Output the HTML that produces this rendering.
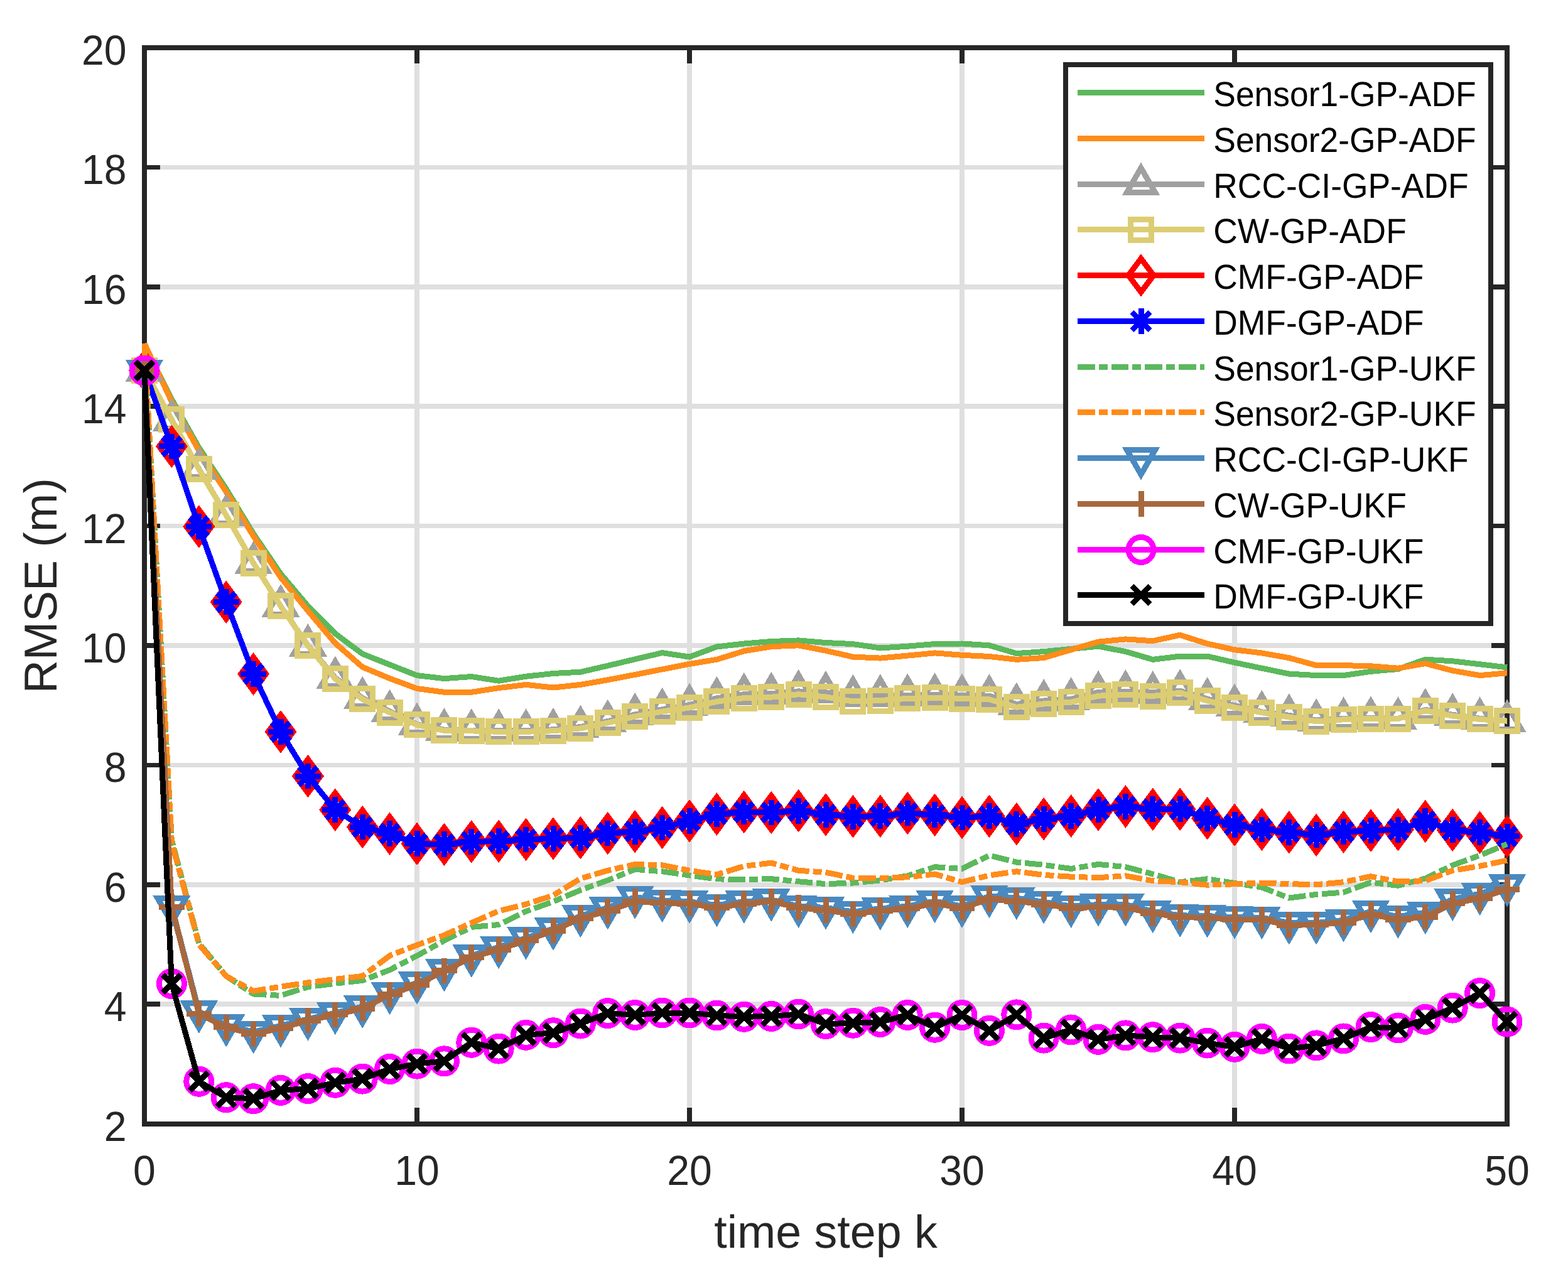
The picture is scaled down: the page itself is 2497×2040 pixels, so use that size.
<!DOCTYPE html><html><head><meta charset="utf-8"><title>RMSE</title><style>html,body{margin:0;padding:0;background:#fff;}svg{display:block;}</style></head><body>
<svg width="2497" height="2040" viewBox="0 0 2497 2040" shape-rendering="crispEdges" text-rendering="geometricPrecision">
<rect x="0" y="0" width="2497" height="2040" fill="#fff"/>
<path d="M664.0,76.0V1789.6M1098.0,76.0V1789.6M1532.0,76.0V1789.6M1966.0,76.0V1789.6M230.0,1599.2H2400.0M230.0,1408.8H2400.0M230.0,1218.4H2400.0M230.0,1028.0H2400.0M230.0,837.6H2400.0M230.0,647.2H2400.0M230.0,456.8H2400.0M230.0,266.4H2400.0" stroke="#dfdfdf" stroke-width="7.5" fill="none"/>
<path d="M664.0,1789.6V1764.3M664.0,76.0V101.3M1098.0,1789.6V1764.3M1098.0,76.0V101.3M1532.0,1789.6V1764.3M1532.0,76.0V101.3M1966.0,1789.6V1764.3M1966.0,76.0V101.3M230.0,1599.2H255.3M2400.0,1599.2H2374.7M230.0,1408.8H255.3M2400.0,1408.8H2374.7M230.0,1218.4H255.3M2400.0,1218.4H2374.7M230.0,1028.0H255.3M2400.0,1028.0H2374.7M230.0,837.6H255.3M2400.0,837.6H2374.7M230.0,647.2H255.3M2400.0,647.2H2374.7M230.0,456.8H255.3M2400.0,456.8H2374.7M230.0,266.4H255.3M2400.0,266.4H2374.7" stroke="#262626" stroke-width="7.5" fill="none"/>
<rect x="230.0" y="76.0" width="2170.0" height="1713.6" fill="none" stroke="#262626" stroke-width="8.0" stroke-linejoin="miter"/>
<text transform="translate(201.5,1816.6) scale(0.96,1)" text-anchor="end" font-family="Liberation Sans, Arial, sans-serif" font-size="67" fill="#262626">2</text>
<text transform="translate(201.5,1626.2) scale(0.96,1)" text-anchor="end" font-family="Liberation Sans, Arial, sans-serif" font-size="67" fill="#262626">4</text>
<text transform="translate(201.5,1435.8) scale(0.96,1)" text-anchor="end" font-family="Liberation Sans, Arial, sans-serif" font-size="67" fill="#262626">6</text>
<text transform="translate(201.5,1245.4) scale(0.96,1)" text-anchor="end" font-family="Liberation Sans, Arial, sans-serif" font-size="67" fill="#262626">8</text>
<text transform="translate(201.5,1055.0) scale(0.96,1)" text-anchor="end" font-family="Liberation Sans, Arial, sans-serif" font-size="67" fill="#262626">10</text>
<text transform="translate(201.5,864.6) scale(0.96,1)" text-anchor="end" font-family="Liberation Sans, Arial, sans-serif" font-size="67" fill="#262626">12</text>
<text transform="translate(201.5,674.2) scale(0.96,1)" text-anchor="end" font-family="Liberation Sans, Arial, sans-serif" font-size="67" fill="#262626">14</text>
<text transform="translate(201.5,483.8) scale(0.96,1)" text-anchor="end" font-family="Liberation Sans, Arial, sans-serif" font-size="67" fill="#262626">16</text>
<text transform="translate(201.5,293.4) scale(0.96,1)" text-anchor="end" font-family="Liberation Sans, Arial, sans-serif" font-size="67" fill="#262626">18</text>
<text transform="translate(201.5,103.0) scale(0.96,1)" text-anchor="end" font-family="Liberation Sans, Arial, sans-serif" font-size="67" fill="#262626">20</text>
<text transform="translate(230.0,1887) scale(0.96,1)" text-anchor="middle" font-family="Liberation Sans, Arial, sans-serif" font-size="67" fill="#262626">0</text>
<text transform="translate(664.0,1887) scale(0.96,1)" text-anchor="middle" font-family="Liberation Sans, Arial, sans-serif" font-size="67" fill="#262626">10</text>
<text transform="translate(1098.0,1887) scale(0.96,1)" text-anchor="middle" font-family="Liberation Sans, Arial, sans-serif" font-size="67" fill="#262626">20</text>
<text transform="translate(1532.0,1887) scale(0.96,1)" text-anchor="middle" font-family="Liberation Sans, Arial, sans-serif" font-size="67" fill="#262626">30</text>
<text transform="translate(1966.0,1887) scale(0.96,1)" text-anchor="middle" font-family="Liberation Sans, Arial, sans-serif" font-size="67" fill="#262626">40</text>
<text transform="translate(2400.0,1887) scale(0.96,1)" text-anchor="middle" font-family="Liberation Sans, Arial, sans-serif" font-size="67" fill="#262626">50</text>
<text x="1315.0" y="1987.4" text-anchor="middle" font-family="Liberation Sans, Arial, sans-serif" font-size="73.5" fill="#262626">time step k</text>
<text transform="translate(90,932.8) rotate(-90)" text-anchor="middle" font-family="Liberation Sans, Arial, sans-serif" font-size="73.5" fill="#262626">RMSE (m)</text>
<polyline points="230.0,550.1 273.4,635.8 316.8,712.9 360.2,778.6 403.6,850.0 447.0,913.8 490.4,965.2 533.8,1009.0 577.2,1041.3 620.6,1058.5 664.0,1075.6 707.4,1080.6 750.8,1077.5 794.2,1084.2 837.6,1077.2 881.0,1072.5 924.4,1070.2 967.8,1060.2 1011.2,1049.8 1054.6,1039.6 1098.0,1046.1 1141.4,1030.0 1184.8,1025.0 1228.2,1021.5 1271.6,1019.9 1315.0,1023.5 1358.4,1025.6 1401.8,1032.0 1445.2,1029.2 1488.6,1025.5 1532.0,1025.0 1575.4,1027.8 1618.8,1040.6 1662.2,1037.6 1705.6,1033.4 1749.0,1029.2 1792.4,1037.6 1835.8,1050.3 1879.2,1045.1 1922.6,1045.1 1966.0,1055.1 2009.4,1064.2 2052.8,1073.1 2096.2,1075.6 2139.6,1075.6 2183.0,1069.3 2226.4,1065.5 2269.8,1050.2 2313.2,1052.8 2356.6,1057.8 2400.0,1062.9" fill="none" stroke="#5cb85c" stroke-width="9.0" stroke-linejoin="miter" stroke-miterlimit="10" stroke-linecap="butt"/>
<polyline points="230.0,547.2 273.4,639.6 316.8,717.6 360.2,783.3 403.6,853.8 447.0,919.5 490.4,972.8 533.8,1024.2 577.2,1062.3 620.6,1080.4 664.0,1096.5 707.4,1102.3 750.8,1102.3 794.2,1095.6 837.6,1090.4 881.0,1095.0 924.4,1090.4 967.8,1082.8 1011.2,1074.4 1054.6,1065.9 1098.0,1057.4 1141.4,1050.3 1184.8,1036.8 1228.2,1029.7 1271.6,1027.8 1315.0,1036.2 1358.4,1046.1 1401.8,1048.1 1445.2,1044.1 1488.6,1039.9 1532.0,1043.3 1575.4,1045.5 1618.8,1050.3 1662.2,1047.5 1705.6,1034.8 1749.0,1022.1 1792.4,1017.9 1835.8,1020.7 1879.2,1011.3 1922.6,1025.1 1966.0,1034.7 2009.4,1040.0 2052.8,1047.7 2096.2,1059.6 2139.6,1059.6 2183.0,1060.8 2226.4,1064.2 2269.8,1056.6 2313.2,1068.0 2356.6,1075.6 2400.0,1071.8" fill="none" stroke="#ff8c1a" stroke-width="9.0" stroke-linejoin="miter" stroke-miterlimit="10" stroke-linecap="butt"/>
<polyline points="230.0,590.1 273.4,669.1 316.8,746.7 360.2,820.5 403.6,896.6 447.0,965.2 490.4,1028.0 533.8,1079.4 577.2,1111.8 620.6,1132.7 664.0,1153.7 707.4,1162.2 750.8,1163.2 794.2,1163.3 837.6,1163.3 881.0,1161.9 924.4,1157.6 967.8,1148.6 1011.2,1137.9 1054.6,1129.7 1098.0,1122.6 1141.4,1111.9 1184.8,1105.7 1228.2,1104.8 1271.6,1100.9 1315.0,1102.8 1358.4,1108.8 1401.8,1108.2 1445.2,1107.3 1488.6,1106.2 1532.0,1107.3 1575.4,1108.2 1618.8,1121.4 1662.2,1116.0 1705.6,1113.2 1749.0,1102.5 1792.4,1101.1 1835.8,1103.0 1879.2,1100.2 1922.6,1113.1 1966.0,1123.5 2009.4,1133.8 2052.8,1139.3 2096.2,1147.1 2139.6,1144.3 2183.0,1143.3 2226.4,1144.3 2269.8,1130.4 2313.2,1138.2 2356.6,1144.3 2400.0,1148.3" fill="none" stroke="#a0a0a0" stroke-width="9.0" stroke-linejoin="miter" stroke-miterlimit="10" stroke-linecap="butt"/>
<g stroke="#a0a0a0" fill="none" stroke-width="9.0" stroke-linejoin="miter" stroke-miterlimit="10" stroke-linecap="butt"><polygon points="230.00,564.03 252.56,603.10 207.44,603.10"/><polygon points="273.40,643.05 295.96,682.12 250.84,682.12"/><polygon points="316.80,720.63 339.36,759.70 294.24,759.70"/><polygon points="360.20,794.41 382.76,833.48 337.64,833.48"/><polygon points="403.60,870.57 426.16,909.64 381.04,909.64"/><polygon points="447.00,939.12 469.56,978.19 424.44,978.19"/><polygon points="490.40,1001.95 512.96,1041.02 467.84,1041.02"/><polygon points="533.80,1053.36 556.36,1092.43 511.24,1092.43"/><polygon points="577.20,1085.73 599.76,1124.80 554.64,1124.80"/><polygon points="620.60,1106.67 643.16,1145.74 598.04,1145.74"/><polygon points="664.00,1127.61 686.56,1166.68 641.44,1166.68"/><polygon points="707.40,1136.18 729.96,1175.25 684.84,1175.25"/><polygon points="750.80,1137.13 773.36,1176.20 728.24,1176.20"/><polygon points="794.20,1137.23 816.76,1176.30 771.64,1176.30"/><polygon points="837.60,1137.23 860.16,1176.30 815.04,1176.30"/><polygon points="881.00,1135.80 903.56,1174.87 858.44,1174.87"/><polygon points="924.40,1131.52 946.96,1170.59 901.84,1170.59"/><polygon points="967.80,1122.57 990.36,1161.64 945.24,1161.64"/><polygon points="1011.20,1111.81 1033.76,1150.88 988.64,1150.88"/><polygon points="1054.60,1103.62 1077.16,1142.69 1032.04,1142.69"/><polygon points="1098.00,1096.58 1120.56,1135.65 1075.44,1135.65"/><polygon points="1141.40,1085.82 1163.96,1124.89 1118.84,1124.89"/><polygon points="1184.80,1079.63 1207.36,1118.70 1162.24,1118.70"/><polygon points="1228.20,1078.78 1250.76,1117.85 1205.64,1117.85"/><polygon points="1271.60,1074.87 1294.16,1113.94 1249.04,1113.94"/><polygon points="1315.00,1076.78 1337.56,1115.85 1292.44,1115.85"/><polygon points="1358.40,1082.77 1380.96,1121.84 1335.84,1121.84"/><polygon points="1401.80,1082.11 1424.36,1121.18 1379.24,1121.18"/><polygon points="1445.20,1081.25 1467.76,1120.32 1422.64,1120.32"/><polygon points="1488.60,1080.11 1511.16,1119.18 1466.04,1119.18"/><polygon points="1532.00,1081.25 1554.56,1120.32 1509.44,1120.32"/><polygon points="1575.40,1082.11 1597.96,1121.18 1552.84,1121.18"/><polygon points="1618.80,1095.34 1641.36,1134.41 1596.24,1134.41"/><polygon points="1662.20,1089.91 1684.76,1128.98 1639.64,1128.98"/><polygon points="1705.60,1087.15 1728.16,1126.22 1683.04,1126.22"/><polygon points="1749.00,1076.49 1771.56,1115.56 1726.44,1115.56"/><polygon points="1792.40,1075.06 1814.96,1114.13 1769.84,1114.13"/><polygon points="1835.80,1076.97 1858.36,1116.04 1813.24,1116.04"/><polygon points="1879.20,1074.11 1901.76,1113.18 1856.64,1113.18"/><polygon points="1922.60,1087.06 1945.16,1126.13 1900.04,1126.13"/><polygon points="1966.00,1097.44 1988.56,1136.51 1943.44,1136.51"/><polygon points="2009.40,1107.72 2031.96,1146.79 1986.84,1146.79"/><polygon points="2052.80,1113.24 2075.36,1152.31 2030.24,1152.31"/><polygon points="2096.20,1121.05 2118.76,1160.12 2073.64,1160.12"/><polygon points="2139.60,1118.28 2162.16,1157.35 2117.04,1157.35"/><polygon points="2183.00,1117.24 2205.56,1156.31 2160.44,1156.31"/><polygon points="2226.40,1118.28 2248.96,1157.35 2203.84,1157.35"/><polygon points="2269.80,1104.39 2292.36,1143.46 2247.24,1143.46"/><polygon points="2313.20,1112.19 2335.76,1151.26 2290.64,1151.26"/><polygon points="2356.60,1118.28 2379.16,1157.35 2334.04,1157.35"/><polygon points="2400.00,1122.28 2422.56,1161.35 2377.44,1161.35"/></g>
<polyline points="230.0,590.1 273.4,668.1 316.8,747.2 360.2,820.5 403.6,896.6 447.0,965.2 490.4,1028.5 533.8,1081.0 577.2,1113.4 620.6,1134.6 664.0,1154.4 707.4,1163.4 750.8,1163.9 794.2,1165.3 837.6,1165.3 881.0,1163.8 924.4,1159.9 967.8,1151.1 1011.2,1141.0 1054.6,1133.1 1098.0,1126.9 1141.4,1117.3 1184.8,1111.6 1228.2,1110.2 1271.6,1105.7 1315.0,1109.9 1358.4,1117.0 1401.8,1115.6 1445.2,1112.3 1488.6,1111.5 1532.0,1112.5 1575.4,1113.9 1618.8,1126.3 1662.2,1120.9 1705.6,1118.2 1749.0,1108.2 1792.4,1106.3 1835.8,1108.5 1879.2,1103.2 1922.6,1116.1 1966.0,1126.7 2009.4,1134.7 2052.8,1142.0 2096.2,1148.8 2139.6,1145.8 2183.0,1144.6 2226.4,1144.6 2269.8,1131.8 2313.2,1140.1 2356.6,1145.5 2400.0,1148.1" fill="none" stroke="#dccd73" stroke-width="9.0" stroke-linejoin="miter" stroke-miterlimit="10" stroke-linecap="butt"/>
<g stroke="#dccd73" fill="none" stroke-width="9.0" stroke-linejoin="miter" stroke-miterlimit="10" stroke-linecap="butt"><rect x="213.50" y="573.58" width="33" height="33"/><rect x="256.90" y="651.64" width="33" height="33"/><rect x="300.30" y="730.66" width="33" height="33"/><rect x="343.70" y="803.96" width="33" height="33"/><rect x="387.10" y="880.12" width="33" height="33"/><rect x="430.50" y="948.67" width="33" height="33"/><rect x="473.90" y="1011.98" width="33" height="33"/><rect x="517.30" y="1064.53" width="33" height="33"/><rect x="560.70" y="1096.89" width="33" height="33"/><rect x="604.10" y="1118.12" width="33" height="33"/><rect x="647.50" y="1137.93" width="33" height="33"/><rect x="690.90" y="1146.87" width="33" height="33"/><rect x="734.30" y="1147.45" width="33" height="33"/><rect x="777.70" y="1148.78" width="33" height="33"/><rect x="821.10" y="1148.78" width="33" height="33"/><rect x="864.50" y="1147.26" width="33" height="33"/><rect x="907.90" y="1143.45" width="33" height="33"/><rect x="951.30" y="1134.59" width="33" height="33"/><rect x="994.70" y="1124.50" width="33" height="33"/><rect x="1038.10" y="1116.60" width="33" height="33"/><rect x="1081.50" y="1110.41" width="33" height="33"/><rect x="1124.90" y="1100.80" width="33" height="33"/><rect x="1168.30" y="1095.09" width="33" height="33"/><rect x="1211.70" y="1093.66" width="33" height="33"/><rect x="1255.10" y="1089.18" width="33" height="33"/><rect x="1298.50" y="1093.37" width="33" height="33"/><rect x="1341.90" y="1100.51" width="33" height="33"/><rect x="1385.30" y="1099.08" width="33" height="33"/><rect x="1428.70" y="1095.75" width="33" height="33"/><rect x="1472.10" y="1094.99" width="33" height="33"/><rect x="1515.50" y="1096.04" width="33" height="33"/><rect x="1558.90" y="1097.37" width="33" height="33"/><rect x="1602.30" y="1109.84" width="33" height="33"/><rect x="1645.70" y="1104.42" width="33" height="33"/><rect x="1689.10" y="1101.65" width="33" height="33"/><rect x="1732.50" y="1091.66" width="33" height="33"/><rect x="1775.90" y="1089.75" width="33" height="33"/><rect x="1819.30" y="1092.04" width="33" height="33"/><rect x="1862.70" y="1086.71" width="33" height="33"/><rect x="1906.10" y="1099.56" width="33" height="33"/><rect x="1949.50" y="1110.22" width="33" height="33"/><rect x="1992.90" y="1118.22" width="33" height="33"/><rect x="2036.30" y="1125.45" width="33" height="33"/><rect x="2079.70" y="1132.31" width="33" height="33"/><rect x="2123.10" y="1129.26" width="33" height="33"/><rect x="2166.50" y="1128.12" width="33" height="33"/><rect x="2209.90" y="1128.12" width="33" height="33"/><rect x="2253.30" y="1115.27" width="33" height="33"/><rect x="2296.70" y="1123.65" width="33" height="33"/><rect x="2340.10" y="1128.98" width="33" height="33"/><rect x="2383.50" y="1131.64" width="33" height="33"/></g>
<polyline points="230.0,590.1 273.4,711.0 316.8,838.6 360.2,958.8 403.6,1073.3 447.0,1165.4 490.4,1236.0 533.8,1289.6 577.2,1317.0 620.6,1327.7 664.0,1343.8 707.4,1344.7 750.8,1340.3 794.2,1339.7 837.6,1336.9 881.0,1335.5 924.4,1334.2 967.8,1326.9 1011.2,1324.2 1054.6,1318.0 1098.0,1307.3 1141.4,1296.5 1184.8,1293.0 1228.2,1294.0 1271.6,1291.2 1315.0,1297.4 1358.4,1300.3 1401.8,1299.8 1445.2,1295.0 1488.6,1297.8 1532.0,1302.0 1575.4,1299.8 1618.8,1312.2 1662.2,1304.2 1705.6,1299.5 1749.0,1289.3 1792.4,1284.4 1835.8,1288.8 1879.2,1288.8 1922.6,1303.1 1966.0,1313.6 2009.4,1320.9 2052.8,1325.4 2096.2,1329.8 2139.6,1324.7 2183.0,1322.6 2226.4,1321.2 2269.8,1307.9 2313.2,1321.9 2356.6,1325.7 2400.0,1332.0" fill="none" stroke="#ff0000" stroke-width="9.0" stroke-linejoin="miter" stroke-miterlimit="10" stroke-linecap="butt"/>
<g stroke="#ff0000" fill="none" stroke-width="9.0" stroke-linejoin="miter" stroke-miterlimit="10" stroke-linecap="butt"><polygon points="230.00,563.28 249.90,590.08 230.00,616.88 210.10,590.08"/><polygon points="273.40,684.18 293.30,710.98 273.40,737.78 253.50,710.98"/><polygon points="316.80,811.75 336.70,838.55 316.80,865.35 296.90,838.55"/><polygon points="360.20,931.99 380.10,958.79 360.20,985.59 340.30,958.79"/><polygon points="403.60,1046.52 423.50,1073.32 403.60,1100.12 383.70,1073.32"/><polygon points="447.00,1138.57 466.90,1165.37 447.00,1192.17 427.10,1165.37"/><polygon points="490.40,1209.21 510.30,1236.01 490.40,1262.81 470.50,1236.01"/><polygon points="533.80,1262.81 553.70,1289.61 533.80,1316.41 513.90,1289.61"/><polygon points="577.20,1290.23 597.10,1317.03 577.20,1343.83 557.30,1317.03"/><polygon points="620.60,1300.89 640.50,1327.69 620.60,1354.49 600.70,1327.69"/><polygon points="664.00,1316.98 683.90,1343.78 664.00,1370.58 644.10,1343.78"/><polygon points="707.40,1317.93 727.30,1344.73 707.40,1371.53 687.50,1344.73"/><polygon points="750.80,1313.46 770.70,1340.26 750.80,1367.06 730.90,1340.26"/><polygon points="794.20,1312.88 814.10,1339.68 794.20,1366.48 774.30,1339.68"/><polygon points="837.60,1310.12 857.50,1336.92 837.60,1363.72 817.70,1336.92"/><polygon points="881.00,1308.70 900.90,1335.50 881.00,1362.30 861.10,1335.50"/><polygon points="924.40,1307.36 944.30,1334.16 924.40,1360.96 904.50,1334.16"/><polygon points="967.80,1300.13 987.70,1326.93 967.80,1353.73 947.90,1326.93"/><polygon points="1011.20,1297.37 1031.10,1324.17 1011.20,1350.97 991.30,1324.17"/><polygon points="1054.60,1291.18 1074.50,1317.98 1054.60,1344.78 1034.70,1317.98"/><polygon points="1098.00,1280.52 1117.90,1307.32 1098.00,1334.12 1078.10,1307.32"/><polygon points="1141.40,1269.66 1161.30,1296.46 1141.40,1323.26 1121.50,1296.46"/><polygon points="1184.80,1266.24 1204.70,1293.04 1184.80,1319.84 1164.90,1293.04"/><polygon points="1228.20,1267.19 1248.10,1293.99 1228.20,1320.79 1208.30,1293.99"/><polygon points="1271.60,1264.43 1291.50,1291.23 1271.60,1318.03 1251.70,1291.23"/><polygon points="1315.00,1270.62 1334.90,1297.42 1315.00,1324.22 1295.10,1297.42"/><polygon points="1358.40,1273.47 1378.30,1300.27 1358.40,1327.07 1338.50,1300.27"/><polygon points="1401.80,1273.00 1421.70,1299.80 1401.80,1326.60 1381.90,1299.80"/><polygon points="1445.20,1268.24 1465.10,1295.04 1445.20,1321.84 1425.30,1295.04"/><polygon points="1488.60,1271.00 1508.50,1297.80 1488.60,1324.60 1468.70,1297.80"/><polygon points="1532.00,1275.19 1551.90,1301.99 1532.00,1328.79 1512.10,1301.99"/><polygon points="1575.40,1273.00 1595.30,1299.80 1575.40,1326.60 1555.50,1299.80"/><polygon points="1618.80,1285.37 1638.70,1312.17 1618.80,1338.97 1598.90,1312.17"/><polygon points="1662.20,1277.38 1682.10,1304.18 1662.20,1330.98 1642.30,1304.18"/><polygon points="1705.60,1272.71 1725.50,1299.51 1705.60,1326.31 1685.70,1299.51"/><polygon points="1749.00,1262.52 1768.90,1289.32 1749.00,1316.12 1729.10,1289.32"/><polygon points="1792.40,1257.57 1812.30,1284.37 1792.40,1311.17 1772.50,1284.37"/><polygon points="1835.80,1262.05 1855.70,1288.85 1835.80,1315.65 1815.90,1288.85"/><polygon points="1879.20,1262.05 1899.10,1288.85 1879.20,1315.65 1859.30,1288.85"/><polygon points="1922.60,1276.33 1942.50,1303.13 1922.60,1329.93 1902.70,1303.13"/><polygon points="1966.00,1286.80 1985.90,1313.60 1966.00,1340.40 1946.10,1313.60"/><polygon points="2009.40,1294.13 2029.30,1320.93 2009.40,1347.73 1989.50,1320.93"/><polygon points="2052.80,1298.60 2072.70,1325.40 2052.80,1352.20 2032.90,1325.40"/><polygon points="2096.20,1302.98 2116.10,1329.78 2096.20,1356.58 2076.30,1329.78"/><polygon points="2139.60,1297.94 2159.50,1324.74 2139.60,1351.54 2119.70,1324.74"/><polygon points="2183.00,1295.84 2202.90,1322.64 2183.00,1349.44 2163.10,1322.64"/><polygon points="2226.40,1294.42 2246.30,1321.22 2226.40,1348.02 2206.50,1321.22"/><polygon points="2269.80,1281.09 2289.70,1307.89 2269.80,1334.69 2249.90,1307.89"/><polygon points="2313.20,1295.08 2333.10,1321.88 2313.20,1348.68 2293.30,1321.88"/><polygon points="2356.60,1298.89 2376.50,1325.69 2356.60,1352.49 2336.70,1325.69"/><polygon points="2400.00,1305.17 2419.90,1331.97 2400.00,1358.77 2380.10,1331.97"/></g>
<polyline points="230.0,590.1 273.4,711.0 316.8,838.6 360.2,958.8 403.6,1073.3 447.0,1165.4 490.4,1236.0 533.8,1289.6 577.2,1317.0 620.6,1327.7 664.0,1343.8 707.4,1344.7 750.8,1340.3 794.2,1339.7 837.6,1336.9 881.0,1335.5 924.4,1334.2 967.8,1326.9 1011.2,1324.2 1054.6,1318.0 1098.0,1307.3 1141.4,1296.5 1184.8,1293.0 1228.2,1294.0 1271.6,1291.2 1315.0,1297.4 1358.4,1300.3 1401.8,1299.8 1445.2,1295.0 1488.6,1297.8 1532.0,1302.0 1575.4,1299.8 1618.8,1312.2 1662.2,1304.2 1705.6,1299.5 1749.0,1289.3 1792.4,1284.4 1835.8,1288.8 1879.2,1288.8 1922.6,1303.1 1966.0,1313.6 2009.4,1320.9 2052.8,1325.4 2096.2,1329.8 2139.6,1324.7 2183.0,1322.6 2226.4,1321.2 2269.8,1307.9 2313.2,1321.9 2356.6,1325.7 2400.0,1332.0" fill="none" stroke="#0000ff" stroke-width="9.0" stroke-linejoin="miter" stroke-miterlimit="10" stroke-linecap="butt"/>
<g stroke="#0000ff" fill="none" stroke-width="9.0" stroke-linejoin="miter" stroke-miterlimit="10" stroke-linecap="butt"><path d="M230.00,569.68V610.48M209.60,590.08H250.40M215.60,575.68L244.40,604.48M215.60,604.48L244.40,575.68"/><path d="M273.40,690.58V731.38M253.00,710.98H293.80M259.00,696.58L287.80,725.38M259.00,725.38L287.80,696.58"/><path d="M316.80,818.15V858.95M296.40,838.55H337.20M302.40,824.15L331.20,852.95M302.40,852.95L331.20,824.15"/><path d="M360.20,938.39V979.19M339.80,958.79H380.60M345.80,944.39L374.60,973.19M345.80,973.19L374.60,944.39"/><path d="M403.60,1052.92V1093.72M383.20,1073.32H424.00M389.20,1058.92L418.00,1087.72M389.20,1087.72L418.00,1058.92"/><path d="M447.00,1144.97V1185.77M426.60,1165.37H467.40M432.60,1150.97L461.40,1179.77M432.60,1179.77L461.40,1150.97"/><path d="M490.40,1215.61V1256.41M470.00,1236.01H510.80M476.00,1221.61L504.80,1250.41M476.00,1250.41L504.80,1221.61"/><path d="M533.80,1269.21V1310.01M513.40,1289.61H554.20M519.40,1275.21L548.20,1304.01M519.40,1304.01L548.20,1275.21"/><path d="M577.20,1296.63V1337.43M556.80,1317.03H597.60M562.80,1302.63L591.60,1331.43M562.80,1331.43L591.60,1302.63"/><path d="M620.60,1307.29V1348.09M600.20,1327.69H641.00M606.20,1313.29L635.00,1342.09M606.20,1342.09L635.00,1313.29"/><path d="M664.00,1323.38V1364.18M643.60,1343.78H684.40M649.60,1329.38L678.40,1358.18M649.60,1358.18L678.40,1329.38"/><path d="M707.40,1324.33V1365.13M687.00,1344.73H727.80M693.00,1330.33L721.80,1359.13M693.00,1359.13L721.80,1330.33"/><path d="M750.80,1319.86V1360.66M730.40,1340.26H771.20M736.40,1325.86L765.20,1354.66M736.40,1354.66L765.20,1325.86"/><path d="M794.20,1319.28V1360.08M773.80,1339.68H814.60M779.80,1325.28L808.60,1354.08M779.80,1354.08L808.60,1325.28"/><path d="M837.60,1316.52V1357.32M817.20,1336.92H858.00M823.20,1322.52L852.00,1351.32M823.20,1351.32L852.00,1322.52"/><path d="M881.00,1315.10V1355.90M860.60,1335.50H901.40M866.60,1321.10L895.40,1349.90M866.60,1349.90L895.40,1321.10"/><path d="M924.40,1313.76V1354.56M904.00,1334.16H944.80M910.00,1319.76L938.80,1348.56M910.00,1348.56L938.80,1319.76"/><path d="M967.80,1306.53V1347.33M947.40,1326.93H988.20M953.40,1312.53L982.20,1341.33M953.40,1341.33L982.20,1312.53"/><path d="M1011.20,1303.77V1344.57M990.80,1324.17H1031.60M996.80,1309.77L1025.60,1338.57M996.80,1338.57L1025.60,1309.77"/><path d="M1054.60,1297.58V1338.38M1034.20,1317.98H1075.00M1040.20,1303.58L1069.00,1332.38M1040.20,1332.38L1069.00,1303.58"/><path d="M1098.00,1286.92V1327.72M1077.60,1307.32H1118.40M1083.60,1292.92L1112.40,1321.72M1083.60,1321.72L1112.40,1292.92"/><path d="M1141.40,1276.06V1316.86M1121.00,1296.46H1161.80M1127.00,1282.06L1155.80,1310.86M1127.00,1310.86L1155.80,1282.06"/><path d="M1184.80,1272.64V1313.44M1164.40,1293.04H1205.20M1170.40,1278.64L1199.20,1307.44M1170.40,1307.44L1199.20,1278.64"/><path d="M1228.20,1273.59V1314.39M1207.80,1293.99H1248.60M1213.80,1279.59L1242.60,1308.39M1213.80,1308.39L1242.60,1279.59"/><path d="M1271.60,1270.83V1311.63M1251.20,1291.23H1292.00M1257.20,1276.83L1286.00,1305.63M1257.20,1305.63L1286.00,1276.83"/><path d="M1315.00,1277.02V1317.82M1294.60,1297.42H1335.40M1300.60,1283.02L1329.40,1311.82M1300.60,1311.82L1329.40,1283.02"/><path d="M1358.40,1279.87V1320.67M1338.00,1300.27H1378.80M1344.00,1285.87L1372.80,1314.67M1344.00,1314.67L1372.80,1285.87"/><path d="M1401.80,1279.40V1320.20M1381.40,1299.80H1422.20M1387.40,1285.40L1416.20,1314.20M1387.40,1314.20L1416.20,1285.40"/><path d="M1445.20,1274.64V1315.44M1424.80,1295.04H1465.60M1430.80,1280.64L1459.60,1309.44M1430.80,1309.44L1459.60,1280.64"/><path d="M1488.60,1277.40V1318.20M1468.20,1297.80H1509.00M1474.20,1283.40L1503.00,1312.20M1474.20,1312.20L1503.00,1283.40"/><path d="M1532.00,1281.59V1322.39M1511.60,1301.99H1552.40M1517.60,1287.59L1546.40,1316.39M1517.60,1316.39L1546.40,1287.59"/><path d="M1575.40,1279.40V1320.20M1555.00,1299.80H1595.80M1561.00,1285.40L1589.80,1314.20M1561.00,1314.20L1589.80,1285.40"/><path d="M1618.80,1291.77V1332.57M1598.40,1312.17H1639.20M1604.40,1297.77L1633.20,1326.57M1604.40,1326.57L1633.20,1297.77"/><path d="M1662.20,1283.78V1324.58M1641.80,1304.18H1682.60M1647.80,1289.78L1676.60,1318.58M1647.80,1318.58L1676.60,1289.78"/><path d="M1705.60,1279.11V1319.91M1685.20,1299.51H1726.00M1691.20,1285.11L1720.00,1313.91M1691.20,1313.91L1720.00,1285.11"/><path d="M1749.00,1268.92V1309.72M1728.60,1289.32H1769.40M1734.60,1274.92L1763.40,1303.72M1734.60,1303.72L1763.40,1274.92"/><path d="M1792.40,1263.97V1304.77M1772.00,1284.37H1812.80M1778.00,1269.97L1806.80,1298.77M1778.00,1298.77L1806.80,1269.97"/><path d="M1835.80,1268.45V1309.25M1815.40,1288.85H1856.20M1821.40,1274.45L1850.20,1303.25M1821.40,1303.25L1850.20,1274.45"/><path d="M1879.20,1268.45V1309.25M1858.80,1288.85H1899.60M1864.80,1274.45L1893.60,1303.25M1864.80,1303.25L1893.60,1274.45"/><path d="M1922.60,1282.73V1323.53M1902.20,1303.13H1943.00M1908.20,1288.73L1937.00,1317.53M1908.20,1317.53L1937.00,1288.73"/><path d="M1966.00,1293.20V1334.00M1945.60,1313.60H1986.40M1951.60,1299.20L1980.40,1328.00M1951.60,1328.00L1980.40,1299.20"/><path d="M2009.40,1300.53V1341.33M1989.00,1320.93H2029.80M1995.00,1306.53L2023.80,1335.33M1995.00,1335.33L2023.80,1306.53"/><path d="M2052.80,1305.00V1345.80M2032.40,1325.40H2073.20M2038.40,1311.00L2067.20,1339.80M2038.40,1339.80L2067.20,1311.00"/><path d="M2096.20,1309.38V1350.18M2075.80,1329.78H2116.60M2081.80,1315.38L2110.60,1344.18M2081.80,1344.18L2110.60,1315.38"/><path d="M2139.60,1304.34V1345.14M2119.20,1324.74H2160.00M2125.20,1310.34L2154.00,1339.14M2125.20,1339.14L2154.00,1310.34"/><path d="M2183.00,1302.24V1343.04M2162.60,1322.64H2203.40M2168.60,1308.24L2197.40,1337.04M2168.60,1337.04L2197.40,1308.24"/><path d="M2226.40,1300.82V1341.62M2206.00,1321.22H2246.80M2212.00,1306.82L2240.80,1335.62M2212.00,1335.62L2240.80,1306.82"/><path d="M2269.80,1287.49V1328.29M2249.40,1307.89H2290.20M2255.40,1293.49L2284.20,1322.29M2255.40,1322.29L2284.20,1293.49"/><path d="M2313.20,1301.48V1342.28M2292.80,1321.88H2333.60M2298.80,1307.48L2327.60,1336.28M2298.80,1336.28L2327.60,1307.48"/><path d="M2356.60,1305.29V1346.09M2336.20,1325.69H2377.00M2342.20,1311.29L2371.00,1340.09M2342.20,1340.09L2371.00,1311.29"/><path d="M2400.00,1311.57V1352.37M2379.60,1331.97H2420.40M2385.60,1317.57L2414.40,1346.37M2385.60,1346.37L2414.40,1317.57"/></g>
<polyline points="230.0,550.1 273.4,1337.4 316.8,1502.1 360.2,1554.5 403.6,1583.0 447.0,1585.4 490.4,1571.6 533.8,1566.2 577.2,1561.4 620.6,1544.6 664.0,1522.1 707.4,1497.9 750.8,1476.4 794.2,1472.6 837.6,1451.4 881.0,1435.8 924.4,1417.5 967.8,1401.9 1011.2,1384.4 1054.6,1387.8 1098.0,1394.0 1141.4,1399.9 1184.8,1400.5 1228.2,1399.7 1271.6,1403.8 1315.0,1407.6 1358.4,1406.1 1401.8,1401.9 1445.2,1394.8 1488.6,1380.7 1532.0,1383.5 1575.4,1362.3 1618.8,1373.1 1662.2,1377.3 1705.6,1383.5 1749.0,1376.4 1792.4,1380.7 1835.8,1392.0 1879.2,1404.7 1922.6,1399.8 1966.0,1406.4 2009.4,1413.1 2052.8,1430.0 2096.2,1424.4 2139.6,1421.0 2183.0,1405.2 2226.4,1410.3 2269.8,1399.0 2313.2,1377.9 2356.6,1362.2 2400.0,1344.1" fill="none" stroke="#5cb85c" stroke-width="9.0" stroke-linejoin="miter" stroke-miterlimit="10" stroke-linecap="butt" stroke-dasharray="27.7 6 13.9 6"/>
<polyline points="230.0,547.2 273.4,1341.2 316.8,1504.0 360.2,1554.5 403.6,1578.3 447.0,1571.3 490.4,1564.9 533.8,1559.4 577.2,1554.5 620.6,1521.9 664.0,1505.0 707.4,1489.3 750.8,1469.7 794.2,1450.7 837.6,1440.0 881.0,1425.9 924.4,1399.1 967.8,1386.3 1011.2,1376.5 1054.6,1377.9 1098.0,1386.3 1141.4,1392.8 1184.8,1379.3 1228.2,1374.2 1271.6,1386.3 1315.0,1389.2 1358.4,1398.3 1401.8,1398.5 1445.2,1396.8 1488.6,1392.0 1532.0,1404.7 1575.4,1394.0 1618.8,1387.8 1662.2,1393.4 1705.6,1396.2 1749.0,1397.7 1792.4,1394.8 1835.8,1402.7 1879.2,1404.7 1922.6,1409.3 1966.0,1407.8 2009.4,1406.1 2052.8,1407.6 2096.2,1408.8 2139.6,1404.7 2183.0,1395.7 2226.4,1404.0 2269.8,1402.7 2313.2,1386.3 2356.6,1379.3 2400.0,1370.1" fill="none" stroke="#ff8c1a" stroke-width="9.0" stroke-linejoin="miter" stroke-miterlimit="10" stroke-linecap="butt" stroke-dasharray="27.7 6 13.9 6"/>
<polyline points="230.0,590.1 273.4,1443.3 316.8,1610.8 360.2,1632.5 403.6,1643.3 447.0,1633.5 490.4,1622.7 533.8,1613.1 577.2,1602.9 620.6,1581.1 664.0,1564.9 707.4,1544.6 750.8,1521.9 794.2,1508.2 837.6,1493.6 881.0,1479.0 924.4,1458.3 967.8,1445.5 1011.2,1428.7 1054.6,1434.3 1098.0,1435.8 1141.4,1441.5 1184.8,1435.8 1228.2,1432.9 1271.6,1443.1 1315.0,1445.5 1358.4,1452.1 1401.8,1446.9 1445.2,1443.1 1488.6,1435.2 1532.0,1443.1 1575.4,1427.3 1618.8,1430.1 1662.2,1436.4 1705.6,1443.1 1749.0,1440.6 1792.4,1440.6 1835.8,1451.4 1879.2,1457.8 1922.6,1458.6 1966.0,1460.7 2009.4,1461.2 2052.8,1469.6 2096.2,1469.6 2139.6,1465.4 2183.0,1451.3 2226.4,1459.7 2269.8,1453.2 2313.2,1432.0 2356.6,1423.1 2400.0,1409.5" fill="none" stroke="#4a8ac0" stroke-width="9.0" stroke-linejoin="miter" stroke-miterlimit="10" stroke-linecap="butt"/>
<g stroke="#4a8ac0" fill="none" stroke-width="9.0" stroke-linejoin="miter" stroke-miterlimit="10" stroke-linecap="butt"><polygon points="230.00,616.13 252.56,577.06 207.44,577.06"/><polygon points="273.40,1469.31 295.96,1430.24 250.84,1430.24"/><polygon points="316.80,1636.86 339.36,1597.79 294.24,1597.79"/><polygon points="360.20,1658.57 382.76,1619.50 337.64,1619.50"/><polygon points="403.60,1669.33 426.16,1630.26 381.04,1630.26"/><polygon points="447.00,1659.52 469.56,1620.45 424.44,1620.45"/><polygon points="490.40,1648.76 512.96,1609.69 467.84,1609.69"/><polygon points="533.80,1639.15 556.36,1600.08 511.24,1600.08"/><polygon points="577.20,1628.96 599.76,1589.89 554.64,1589.89"/><polygon points="620.60,1607.16 643.16,1568.09 598.04,1568.09"/><polygon points="664.00,1590.98 686.56,1551.91 641.44,1551.91"/><polygon points="707.40,1570.61 729.96,1531.54 684.84,1531.54"/><polygon points="750.80,1547.95 773.36,1508.88 728.24,1508.88"/><polygon points="794.20,1534.24 816.76,1495.17 771.64,1495.17"/><polygon points="837.60,1519.67 860.16,1480.60 815.04,1480.60"/><polygon points="881.00,1505.01 903.56,1465.94 858.44,1465.94"/><polygon points="924.40,1484.35 946.96,1445.28 901.84,1445.28"/><polygon points="967.80,1471.60 990.36,1432.53 945.24,1432.53"/><polygon points="1011.20,1454.75 1033.76,1415.68 988.64,1415.68"/><polygon points="1054.60,1460.36 1077.16,1421.29 1032.04,1421.29"/><polygon points="1098.00,1461.89 1120.56,1422.82 1075.44,1422.82"/><polygon points="1141.40,1467.50 1163.96,1428.43 1118.84,1428.43"/><polygon points="1184.80,1461.89 1207.36,1422.82 1162.24,1422.82"/><polygon points="1228.20,1458.94 1250.76,1419.87 1205.64,1419.87"/><polygon points="1271.60,1469.12 1294.16,1430.05 1249.04,1430.05"/><polygon points="1315.00,1471.60 1337.56,1432.53 1292.44,1432.53"/><polygon points="1358.40,1478.17 1380.96,1439.10 1335.84,1439.10"/><polygon points="1401.80,1472.93 1424.36,1433.86 1379.24,1433.86"/><polygon points="1445.20,1469.12 1467.76,1430.05 1422.64,1430.05"/><polygon points="1488.60,1461.22 1511.16,1422.15 1466.04,1422.15"/><polygon points="1532.00,1469.12 1554.56,1430.05 1509.44,1430.05"/><polygon points="1575.40,1453.32 1597.96,1414.25 1552.84,1414.25"/><polygon points="1618.80,1456.17 1641.36,1417.10 1596.24,1417.10"/><polygon points="1662.20,1462.46 1684.76,1423.39 1639.64,1423.39"/><polygon points="1705.60,1469.12 1728.16,1430.05 1683.04,1430.05"/><polygon points="1749.00,1466.65 1771.56,1427.58 1726.44,1427.58"/><polygon points="1792.40,1466.65 1814.96,1427.58 1769.84,1427.58"/><polygon points="1835.80,1477.40 1858.36,1438.33 1813.24,1438.33"/><polygon points="1879.20,1483.88 1901.76,1444.81 1856.64,1444.81"/><polygon points="1922.60,1484.64 1945.16,1445.57 1900.04,1445.57"/><polygon points="1966.00,1486.73 1988.56,1447.66 1943.44,1447.66"/><polygon points="2009.40,1487.21 2031.96,1448.14 1986.84,1448.14"/><polygon points="2052.80,1495.68 2075.36,1456.61 2030.24,1456.61"/><polygon points="2096.20,1495.68 2118.76,1456.61 2073.64,1456.61"/><polygon points="2139.60,1491.49 2162.16,1452.42 2117.04,1452.42"/><polygon points="2183.00,1477.31 2205.56,1438.24 2160.44,1438.24"/><polygon points="2226.40,1485.78 2248.96,1446.71 2203.84,1446.71"/><polygon points="2269.80,1479.21 2292.36,1440.14 2247.24,1440.14"/><polygon points="2313.20,1458.08 2335.76,1419.01 2290.64,1419.01"/><polygon points="2356.60,1449.13 2379.16,1410.06 2334.04,1410.06"/><polygon points="2400.00,1435.52 2422.56,1396.45 2377.44,1396.45"/></g>
<polyline points="230.0,590.1 273.4,1444.5 316.8,1614.2 360.2,1635.9 403.6,1646.9 447.0,1637.3 490.4,1625.2 533.8,1615.9 577.2,1606.3 620.6,1584.0 664.0,1568.4 707.4,1545.9 750.8,1524.8 794.2,1512.0 837.6,1497.9 881.0,1482.3 924.4,1462.3 967.8,1451.0 1011.2,1435.5 1054.6,1437.6 1098.0,1439.3 1141.4,1445.4 1184.8,1439.3 1228.2,1435.5 1271.6,1445.4 1315.0,1449.5 1358.4,1455.9 1401.8,1450.3 1445.2,1446.9 1488.6,1439.0 1532.0,1446.1 1575.4,1431.9 1618.8,1435.1 1662.2,1440.0 1705.6,1446.1 1749.0,1444.2 1792.4,1445.2 1835.8,1454.6 1879.2,1460.2 1922.6,1461.8 1966.0,1464.4 2009.4,1464.4 2052.8,1473.4 2096.2,1472.1 2139.6,1469.3 2183.0,1456.2 2226.4,1464.4 2269.8,1460.1 2313.2,1439.0 2356.6,1430.5 2400.0,1416.2" fill="none" stroke="#a8683f" stroke-width="9.0" stroke-linejoin="miter" stroke-miterlimit="10" stroke-linecap="butt"/>
<g stroke="#a8683f" fill="none" stroke-width="9.0" stroke-linejoin="miter" stroke-miterlimit="10" stroke-linecap="butt"><path d="M230.00,569.98V610.18M209.90,590.08H250.10"/><path d="M273.40,1424.40V1464.60M253.30,1444.50H293.50"/><path d="M316.80,1594.14V1634.34M296.70,1614.24H336.90"/><path d="M360.20,1615.85V1656.05M340.10,1635.95H380.30"/><path d="M403.60,1626.80V1667.00M383.50,1646.90H423.70"/><path d="M447.00,1617.18V1657.38M426.90,1637.28H467.10"/><path d="M490.40,1605.09V1645.29M470.30,1625.19H510.50"/><path d="M533.80,1595.76V1635.96M513.70,1615.86H553.90"/><path d="M577.20,1586.24V1626.44M557.10,1606.34H597.30"/><path d="M620.60,1563.87V1604.07M600.50,1583.97H640.70"/><path d="M664.00,1548.26V1588.46M643.90,1568.36H684.10"/><path d="M707.40,1525.79V1565.99M687.30,1545.89H727.50"/><path d="M750.80,1504.65V1544.85M730.70,1524.75H770.90"/><path d="M794.20,1491.90V1532.10M774.10,1512.00H814.30"/><path d="M837.60,1477.81V1518.01M817.50,1497.91H857.70"/><path d="M881.00,1462.19V1502.39M860.90,1482.29H901.10"/><path d="M924.40,1442.20V1482.40M904.30,1462.30H944.50"/><path d="M967.80,1430.87V1471.07M947.70,1450.97H987.90"/><path d="M1011.20,1415.36V1455.56M991.10,1435.46H1031.30"/><path d="M1054.60,1417.55V1457.75M1034.50,1437.65H1074.70"/><path d="M1098.00,1419.16V1459.36M1077.90,1439.26H1118.10"/><path d="M1141.40,1425.26V1465.46M1121.30,1445.36H1161.50"/><path d="M1184.80,1419.16V1459.36M1164.70,1439.26H1204.90"/><path d="M1228.20,1415.36V1455.56M1208.10,1435.46H1248.30"/><path d="M1271.60,1425.26V1465.46M1251.50,1445.36H1291.70"/><path d="M1315.00,1429.35V1469.55M1294.90,1449.45H1335.10"/><path d="M1358.40,1435.82V1476.02M1338.30,1455.92H1378.50"/><path d="M1401.80,1430.21V1470.41M1381.70,1450.31H1421.90"/><path d="M1445.20,1426.78V1466.98M1425.10,1446.88H1465.30"/><path d="M1488.60,1418.88V1459.08M1468.50,1438.98H1508.70"/><path d="M1532.00,1426.02V1466.22M1511.90,1446.12H1552.10"/><path d="M1575.40,1411.83V1452.03M1555.30,1431.93H1595.50"/><path d="M1618.80,1414.98V1455.18M1598.70,1435.08H1638.90"/><path d="M1662.20,1419.93V1460.13M1642.10,1440.03H1682.30"/><path d="M1705.60,1426.02V1466.22M1685.50,1446.12H1725.70"/><path d="M1749.00,1424.11V1464.31M1728.90,1444.21H1769.10"/><path d="M1792.40,1425.07V1465.27M1772.30,1445.17H1812.50"/><path d="M1835.80,1434.49V1474.69M1815.70,1454.59H1855.90"/><path d="M1879.20,1440.11V1480.31M1859.10,1460.21H1899.30"/><path d="M1922.60,1441.73V1481.93M1902.50,1461.83H1942.70"/><path d="M1966.00,1444.30V1484.50M1945.90,1464.40H1986.10"/><path d="M2009.40,1444.30V1484.50M1989.30,1464.40H2029.50"/><path d="M2052.80,1453.34V1493.54M2032.70,1473.44H2072.90"/><path d="M2096.20,1452.01V1492.21M2076.10,1472.11H2116.30"/><path d="M2139.60,1449.25V1489.45M2119.50,1469.35H2159.70"/><path d="M2183.00,1436.11V1476.31M2162.90,1456.21H2203.10"/><path d="M2226.40,1444.30V1484.50M2206.30,1464.40H2246.50"/><path d="M2269.80,1440.01V1480.21M2249.70,1460.11H2289.90"/><path d="M2313.20,1418.88V1459.08M2293.10,1438.98H2333.30"/><path d="M2356.60,1410.41V1450.61M2336.50,1430.51H2376.70"/><path d="M2400.00,1396.13V1436.33M2379.90,1416.23H2420.10"/></g>
<polyline points="230.0,590.1 273.4,1566.5 316.8,1722.3 360.2,1747.7 403.6,1749.7 447.0,1736.4 490.4,1733.6 533.8,1724.3 577.2,1718.1 620.6,1702.5 664.0,1694.1 707.4,1689.8 750.8,1660.2 794.2,1670.1 837.6,1648.3 881.0,1644.7 924.4,1630.0 967.8,1613.6 1011.2,1616.4 1054.6,1613.0 1098.0,1613.0 1141.4,1617.0 1184.8,1619.3 1228.2,1618.4 1271.6,1615.0 1315.0,1630.6 1358.4,1629.3 1401.8,1627.5 1445.2,1616.4 1488.6,1636.2 1532.0,1616.4 1575.4,1641.4 1618.8,1615.9 1662.2,1653.1 1705.6,1639.9 1749.0,1655.4 1792.4,1648.9 1835.8,1651.7 1879.2,1653.1 1922.6,1661.1 1966.0,1667.3 2009.4,1654.4 2052.8,1670.0 2096.2,1664.9 2139.6,1653.9 2183.0,1635.6 2226.4,1637.0 2269.8,1623.4 2313.2,1605.1 2356.6,1581.6 2400.0,1627.1" fill="none" stroke="#ff00ff" stroke-width="9.0" stroke-linejoin="miter" stroke-miterlimit="10" stroke-linecap="butt"/>
<g stroke="#ff00ff" fill="none" stroke-width="9.0" stroke-linejoin="miter" stroke-miterlimit="10" stroke-linecap="butt"><circle cx="230.00" cy="590.08" r="20"/><circle cx="273.40" cy="1566.55" r="20"/><circle cx="316.80" cy="1722.29" r="20"/><circle cx="360.20" cy="1747.71" r="20"/><circle cx="403.60" cy="1749.71" r="20"/><circle cx="447.00" cy="1736.38" r="20"/><circle cx="490.40" cy="1733.62" r="20"/><circle cx="533.80" cy="1724.29" r="20"/><circle cx="577.20" cy="1718.10" r="20"/><circle cx="620.60" cy="1702.49" r="20"/><circle cx="664.00" cy="1694.11" r="20"/><circle cx="707.40" cy="1689.83" r="20"/><circle cx="750.80" cy="1660.22" r="20"/><circle cx="794.20" cy="1670.12" r="20"/><circle cx="837.60" cy="1648.32" r="20"/><circle cx="881.00" cy="1644.71" r="20"/><circle cx="924.40" cy="1630.04" r="20"/><circle cx="967.80" cy="1613.58" r="20"/><circle cx="1011.20" cy="1616.43" r="20"/><circle cx="1054.60" cy="1613.00" r="20"/><circle cx="1098.00" cy="1613.00" r="20"/><circle cx="1141.40" cy="1617.00" r="20"/><circle cx="1184.80" cy="1619.29" r="20"/><circle cx="1228.20" cy="1618.43" r="20"/><circle cx="1271.60" cy="1615.00" r="20"/><circle cx="1315.00" cy="1630.62" r="20"/><circle cx="1358.40" cy="1629.28" r="20"/><circle cx="1401.80" cy="1627.47" r="20"/><circle cx="1445.20" cy="1616.43" r="20"/><circle cx="1488.60" cy="1636.23" r="20"/><circle cx="1532.00" cy="1616.43" r="20"/><circle cx="1575.40" cy="1641.37" r="20"/><circle cx="1618.80" cy="1615.86" r="20"/><circle cx="1662.20" cy="1653.08" r="20"/><circle cx="1705.60" cy="1639.95" r="20"/><circle cx="1749.00" cy="1655.37" r="20"/><circle cx="1792.40" cy="1648.89" r="20"/><circle cx="1835.80" cy="1651.66" r="20"/><circle cx="1879.20" cy="1653.08" r="20"/><circle cx="1922.60" cy="1661.08" r="20"/><circle cx="1966.00" cy="1667.27" r="20"/><circle cx="2009.40" cy="1654.42" r="20"/><circle cx="2052.80" cy="1670.03" r="20"/><circle cx="2096.20" cy="1664.89" r="20"/><circle cx="2139.60" cy="1653.94" r="20"/><circle cx="2183.00" cy="1635.57" r="20"/><circle cx="2226.40" cy="1636.99" r="20"/><circle cx="2269.80" cy="1623.38" r="20"/><circle cx="2313.20" cy="1605.10" r="20"/><circle cx="2356.60" cy="1581.59" r="20"/><circle cx="2400.00" cy="1627.09" r="20"/></g>
<polyline points="230.0,590.1 273.4,1566.5 316.8,1722.3 360.2,1747.7 403.6,1749.7 447.0,1736.4 490.4,1733.6 533.8,1724.3 577.2,1718.1 620.6,1702.5 664.0,1694.1 707.4,1689.8 750.8,1660.2 794.2,1670.1 837.6,1648.3 881.0,1644.7 924.4,1630.0 967.8,1613.6 1011.2,1616.4 1054.6,1613.0 1098.0,1613.0 1141.4,1617.0 1184.8,1619.3 1228.2,1618.4 1271.6,1615.0 1315.0,1630.6 1358.4,1629.3 1401.8,1627.5 1445.2,1616.4 1488.6,1636.2 1532.0,1616.4 1575.4,1641.4 1618.8,1615.9 1662.2,1653.1 1705.6,1639.9 1749.0,1655.4 1792.4,1648.9 1835.8,1651.7 1879.2,1653.1 1922.6,1661.1 1966.0,1667.3 2009.4,1654.4 2052.8,1670.0 2096.2,1664.9 2139.6,1653.9 2183.0,1635.6 2226.4,1637.0 2269.8,1623.4 2313.2,1605.1 2356.6,1581.6 2400.0,1627.1" fill="none" stroke="#000000" stroke-width="9.0" stroke-linejoin="miter" stroke-miterlimit="10" stroke-linecap="butt"/>
<g stroke="#000000" fill="none" stroke-width="9.0" stroke-linejoin="miter" stroke-miterlimit="10" stroke-linecap="butt"><path d="M215.70,575.78L244.30,604.38M215.70,604.38L244.30,575.78"/><path d="M259.10,1552.25L287.70,1580.85M259.10,1580.85L287.70,1552.25"/><path d="M302.50,1707.99L331.10,1736.59M302.50,1736.59L331.10,1707.99"/><path d="M345.90,1733.41L374.50,1762.01M345.90,1762.01L374.50,1733.41"/><path d="M389.30,1735.41L417.90,1764.01M389.30,1764.01L417.90,1735.41"/><path d="M432.70,1722.08L461.30,1750.68M432.70,1750.68L461.30,1722.08"/><path d="M476.10,1719.32L504.70,1747.92M476.10,1747.92L504.70,1719.32"/><path d="M519.50,1709.99L548.10,1738.59M519.50,1738.59L548.10,1709.99"/><path d="M562.90,1703.80L591.50,1732.40M562.90,1732.40L591.50,1703.80"/><path d="M606.30,1688.19L634.90,1716.79M606.30,1716.79L634.90,1688.19"/><path d="M649.70,1679.81L678.30,1708.41M649.70,1708.41L678.30,1679.81"/><path d="M693.10,1675.53L721.70,1704.13M693.10,1704.13L721.70,1675.53"/><path d="M736.50,1645.92L765.10,1674.52M736.50,1674.52L765.10,1645.92"/><path d="M779.90,1655.82L808.50,1684.42M779.90,1684.42L808.50,1655.82"/><path d="M823.30,1634.02L851.90,1662.62M823.30,1662.62L851.90,1634.02"/><path d="M866.70,1630.41L895.30,1659.01M866.70,1659.01L895.30,1630.41"/><path d="M910.10,1615.74L938.70,1644.34M910.10,1644.34L938.70,1615.74"/><path d="M953.50,1599.28L982.10,1627.88M953.50,1627.88L982.10,1599.28"/><path d="M996.90,1602.13L1025.50,1630.73M996.90,1630.73L1025.50,1602.13"/><path d="M1040.30,1598.70L1068.90,1627.30M1040.30,1627.30L1068.90,1598.70"/><path d="M1083.70,1598.70L1112.30,1627.30M1083.70,1627.30L1112.30,1598.70"/><path d="M1127.10,1602.70L1155.70,1631.30M1127.10,1631.30L1155.70,1602.70"/><path d="M1170.50,1604.99L1199.10,1633.59M1170.50,1633.59L1199.10,1604.99"/><path d="M1213.90,1604.13L1242.50,1632.73M1213.90,1632.73L1242.50,1604.13"/><path d="M1257.30,1600.70L1285.90,1629.30M1257.30,1629.30L1285.90,1600.70"/><path d="M1300.70,1616.32L1329.30,1644.92M1300.70,1644.92L1329.30,1616.32"/><path d="M1344.10,1614.98L1372.70,1643.58M1344.10,1643.58L1372.70,1614.98"/><path d="M1387.50,1613.17L1416.10,1641.77M1387.50,1641.77L1416.10,1613.17"/><path d="M1430.90,1602.13L1459.50,1630.73M1430.90,1630.73L1459.50,1602.13"/><path d="M1474.30,1621.93L1502.90,1650.53M1474.30,1650.53L1502.90,1621.93"/><path d="M1517.70,1602.13L1546.30,1630.73M1517.70,1630.73L1546.30,1602.13"/><path d="M1561.10,1627.07L1589.70,1655.67M1561.10,1655.67L1589.70,1627.07"/><path d="M1604.50,1601.56L1633.10,1630.16M1604.50,1630.16L1633.10,1601.56"/><path d="M1647.90,1638.78L1676.50,1667.38M1647.90,1667.38L1676.50,1638.78"/><path d="M1691.30,1625.65L1719.90,1654.25M1691.30,1654.25L1719.90,1625.65"/><path d="M1734.70,1641.07L1763.30,1669.67M1734.70,1669.67L1763.30,1641.07"/><path d="M1778.10,1634.59L1806.70,1663.19M1778.10,1663.19L1806.70,1634.59"/><path d="M1821.50,1637.36L1850.10,1665.96M1821.50,1665.96L1850.10,1637.36"/><path d="M1864.90,1638.78L1893.50,1667.38M1864.90,1667.38L1893.50,1638.78"/><path d="M1908.30,1646.78L1936.90,1675.38M1908.30,1675.38L1936.90,1646.78"/><path d="M1951.70,1652.97L1980.30,1681.57M1951.70,1681.57L1980.30,1652.97"/><path d="M1995.10,1640.12L2023.70,1668.72M1995.10,1668.72L2023.70,1640.12"/><path d="M2038.50,1655.73L2067.10,1684.33M2038.50,1684.33L2067.10,1655.73"/><path d="M2081.90,1650.59L2110.50,1679.19M2081.90,1679.19L2110.50,1650.59"/><path d="M2125.30,1639.64L2153.90,1668.24M2125.30,1668.24L2153.90,1639.64"/><path d="M2168.70,1621.27L2197.30,1649.87M2168.70,1649.87L2197.30,1621.27"/><path d="M2212.10,1622.69L2240.70,1651.29M2212.10,1651.29L2240.70,1622.69"/><path d="M2255.50,1609.08L2284.10,1637.68M2255.50,1637.68L2284.10,1609.08"/><path d="M2298.90,1590.80L2327.50,1619.40M2298.90,1619.40L2327.50,1590.80"/><path d="M2342.30,1567.29L2370.90,1595.89M2342.30,1595.89L2370.90,1567.29"/><path d="M2385.70,1612.79L2414.30,1641.39M2385.70,1641.39L2414.30,1612.79"/></g>
<rect x="1697" y="102.6" width="676.5" height="890.4" fill="#fff" stroke="#262626" stroke-width="8.0"/>
<path d="M1716,147.5H1918" stroke="#5cb85c" stroke-width="9.0" fill="none"/>
<text transform="translate(1932.3,169.2) scale(0.962,1)" font-family="Liberation Sans, Arial, sans-serif" font-size="55.5" fill="#000">Sensor1-GP-ADF</text>
<path d="M1716,220.5H1918" stroke="#ff8c1a" stroke-width="9.0" fill="none"/>
<text transform="translate(1932.3,242.2) scale(0.962,1)" font-family="Liberation Sans, Arial, sans-serif" font-size="55.5" fill="#000">Sensor2-GP-ADF</text>
<path d="M1716,293.5H1918" stroke="#a0a0a0" stroke-width="9.0" fill="none"/>
<g stroke="#a0a0a0" fill="none" stroke-width="9.0" stroke-linejoin="miter" stroke-miterlimit="10" stroke-linecap="butt"><polygon points="1817.00,267.45 1839.56,306.52 1794.44,306.52"/></g>
<text transform="translate(1932.3,315.2) scale(0.962,1)" font-family="Liberation Sans, Arial, sans-serif" font-size="55.5" fill="#000">RCC-CI-GP-ADF</text>
<path d="M1716,365.5H1918" stroke="#dccd73" stroke-width="9.0" fill="none"/>
<g stroke="#dccd73" fill="none" stroke-width="9.0" stroke-linejoin="miter" stroke-miterlimit="10" stroke-linecap="butt"><rect x="1800.50" y="349.00" width="33" height="33"/></g>
<text transform="translate(1932.3,387.2) scale(0.962,1)" font-family="Liberation Sans, Arial, sans-serif" font-size="55.5" fill="#000">CW-GP-ADF</text>
<path d="M1716,438.5H1918" stroke="#ff0000" stroke-width="9.0" fill="none"/>
<g stroke="#ff0000" fill="none" stroke-width="9.0" stroke-linejoin="miter" stroke-miterlimit="10" stroke-linecap="butt"><polygon points="1817.00,411.70 1836.90,438.50 1817.00,465.30 1797.10,438.50"/></g>
<text transform="translate(1932.3,460.2) scale(0.962,1)" font-family="Liberation Sans, Arial, sans-serif" font-size="55.5" fill="#000">CMF-GP-ADF</text>
<path d="M1716,511.5H1918" stroke="#0000ff" stroke-width="9.0" fill="none"/>
<g stroke="#0000ff" fill="none" stroke-width="9.0" stroke-linejoin="miter" stroke-miterlimit="10" stroke-linecap="butt"><path d="M1817.00,491.10V531.90M1796.60,511.50H1837.40M1802.60,497.10L1831.40,525.90M1802.60,525.90L1831.40,497.10"/></g>
<text transform="translate(1932.3,533.2) scale(0.962,1)" font-family="Liberation Sans, Arial, sans-serif" font-size="55.5" fill="#000">DMF-GP-ADF</text>
<path d="M1716,584.5H1918" stroke="#5cb85c" stroke-width="9.0" fill="none" stroke-dasharray="27.7 6 13.9 6"/>
<text transform="translate(1932.3,606.2) scale(0.962,1)" font-family="Liberation Sans, Arial, sans-serif" font-size="55.5" fill="#000">Sensor1-GP-UKF</text>
<path d="M1716,656.5H1918" stroke="#ff8c1a" stroke-width="9.0" fill="none" stroke-dasharray="27.7 6 13.9 6"/>
<text transform="translate(1932.3,678.2) scale(0.962,1)" font-family="Liberation Sans, Arial, sans-serif" font-size="55.5" fill="#000">Sensor2-GP-UKF</text>
<path d="M1716,729.5H1918" stroke="#4a8ac0" stroke-width="9.0" fill="none"/>
<g stroke="#4a8ac0" fill="none" stroke-width="9.0" stroke-linejoin="miter" stroke-miterlimit="10" stroke-linecap="butt"><polygon points="1817.00,755.55 1839.56,716.48 1794.44,716.48"/></g>
<text transform="translate(1932.3,751.2) scale(0.962,1)" font-family="Liberation Sans, Arial, sans-serif" font-size="55.5" fill="#000">RCC-CI-GP-UKF</text>
<path d="M1716,802.5H1918" stroke="#a8683f" stroke-width="9.0" fill="none"/>
<g stroke="#a8683f" fill="none" stroke-width="9.0" stroke-linejoin="miter" stroke-miterlimit="10" stroke-linecap="butt"><path d="M1817.00,782.40V822.60M1796.90,802.50H1837.10"/></g>
<text transform="translate(1932.3,824.2) scale(0.962,1)" font-family="Liberation Sans, Arial, sans-serif" font-size="55.5" fill="#000">CW-GP-UKF</text>
<path d="M1716,875.5H1918" stroke="#ff00ff" stroke-width="9.0" fill="none"/>
<g stroke="#ff00ff" fill="none" stroke-width="9.0" stroke-linejoin="miter" stroke-miterlimit="10" stroke-linecap="butt"><circle cx="1817.00" cy="875.50" r="20"/></g>
<text transform="translate(1932.3,897.2) scale(0.962,1)" font-family="Liberation Sans, Arial, sans-serif" font-size="55.5" fill="#000">CMF-GP-UKF</text>
<path d="M1716,947.5H1918" stroke="#000000" stroke-width="9.0" fill="none"/>
<g stroke="#000000" fill="none" stroke-width="9.0" stroke-linejoin="miter" stroke-miterlimit="10" stroke-linecap="butt"><path d="M1802.70,933.20L1831.30,961.80M1802.70,961.80L1831.30,933.20"/></g>
<text transform="translate(1932.3,969.2) scale(0.962,1)" font-family="Liberation Sans, Arial, sans-serif" font-size="55.5" fill="#000">DMF-GP-UKF</text>
</svg></body></html>
